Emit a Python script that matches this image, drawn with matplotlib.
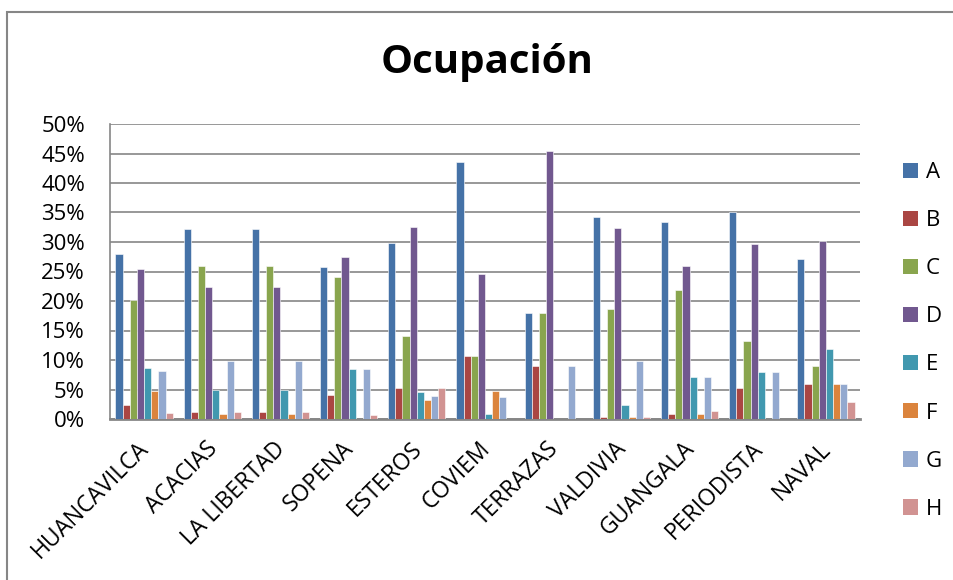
import matplotlib
matplotlib.use("Agg")
import matplotlib.pyplot as plt
import numpy as np
from matplotlib.patches import Rectangle, Patch
from matplotlib.ticker import PercentFormatter, MultipleLocator
from matplotlib.transforms import ScaledTranslation

plt.rcParams['font.family'] = ['Open Sans', 'DejaVu Sans']

categories = ["HUANCAVILCA", "ACACIAS", "LA LIBERTAD", "SOPENA", "ESTEROS", "COVIEM",
              "TERRAZAS", "VALDIVIA", "GUANGALA", "PERIODISTA", "NAVAL"]
series_names = ["A", "B", "C", "D", "E", "F", "G", "H"]

A = [28.0, 32.2, 32.2, 25.7, 29.8, 43.5, 18.0, 34.3, 33.4, 35.1, 27.2]
B = [2.4, 1.2, 1.2, 4.1, 5.2, 10.7, 8.9, 0.4, 0.85, 5.2, 5.9]
C = [20.1, 25.9, 25.9, 24.0, 14.1, 10.7, 18.0, 18.6, 21.8, 13.3, 8.9]
D = [25.5, 22.4, 22.4, 27.4, 32.5, 24.6, 45.4, 32.3, 26.0, 29.7, 30.2]
E = [8.6, 5.0, 5.0, 8.4, 4.5, 0.8, 0.0, 2.3, 7.1, 8.0, 11.9]
F = [4.7, 0.85, 0.85, 0.0, 3.2, 4.7, 0.0, 0.4, 0.85, 0.0, 5.9]
G = [8.2, 9.9, 9.9, 8.4, 3.9, 3.75, 8.9, 9.9, 7.1, 8.0, 5.9]
H = [1.1, 1.2, 1.2, 0.7, 5.2, 0.0, 0.0, 0.4, 1.4, 0.0, 2.8]
series = [A, B, C, D, E, F, G, H]

colors = ["#4572A7", "#AA4643", "#89A54E", "#71588F", "#4198AF", "#DB843D", "#93A9CF", "#D19392"]

W, Hpx = 954, 580
fig = plt.figure(figsize=(W / 100, Hpx / 100), dpi=100)
ax = fig.add_axes([110 / W, 1 - 419 / Hpx, (860 - 110) / W, (419 - 124) / Hpx])

x = np.arange(len(categories))
bw = 0.105
for i, (vals, col) in enumerate(zip(series, colors)):
    offs = (i - 3.5) * bw
    ax.bar(x + offs, np.array(vals) / 100, width=bw, color=col, edgecolor='white',
           linewidth=0.4, zorder=3, label=series_names[i])

ax.set_xlim(-0.5, len(categories) - 0.5)
ax.set_ylim(0, 0.5)
ax.yaxis.set_major_locator(MultipleLocator(0.05))
ax.yaxis.set_major_formatter(PercentFormatter(1.0, decimals=0))
ax.grid(axis='y', color='#868686', linewidth=1.2, zorder=0)
ax.set_axisbelow(True)
for s in ['top', 'right']:
    ax.spines[s].set_visible(False)
ax.spines['left'].set_color('#868686')
ax.spines['left'].set_linewidth(1.2)
ax.spines['bottom'].set_color('#868686')
ax.spines['bottom'].set_linewidth(2)
ax.tick_params(axis='both', length=0, colors='black')
ax.tick_params(axis='y', pad=18, labelsize=16)
ax.set_xticks(x)
ax.set_xticklabels(categories, rotation=45, ha='right', rotation_mode='anchor', fontsize=16.5)
ax.tick_params(axis='x', pad=13)
shift = ScaledTranslation(-7 / 100, 0, fig.dpi_scale_trans)
for lbl in ax.get_xticklabels():
    lbl.set_transform(lbl.get_transform() + shift)

fig.text(487 / W, 1 - 62 / Hpx, "Ocupación", ha='center', va='center',
         fontsize=29, fontweight='bold')

handles = [Patch(facecolor=c, edgecolor='none') for c in colors]
fig.legend(handles, series_names, loc='upper left', bbox_to_anchor=(903 / W, 1 - 162 / Hpx),
           frameon=False, fontsize=16, handlelength=0.68, handleheight=0.68,
           handletextpad=0.35, labelspacing=1.22, borderpad=0, borderaxespad=0)

fig.add_artist(Rectangle((7 / W, -0.1), 1.2, 1.1 - 12 / Hpx, transform=fig.transFigure,
                         fill=False, edgecolor='#868686', linewidth=1.5))

fig.savefig("out.png", dpi=100)
